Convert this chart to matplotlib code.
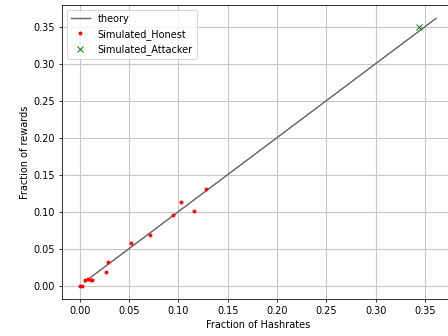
import numpy as np
import matplotlib
matplotlib.use("Agg")
import matplotlib.pyplot as plt

# simulated miners: fraction of hashrate vs fraction of rewards
honest_hash = [0.000, 0.002, 0.005, 0.008, 0.012, 0.013, 0.027, 0.029,
               0.052, 0.071, 0.095, 0.103, 0.116, 0.128]
honest_reward = [0.000, 0.000, 0.007, 0.0085, 0.008, 0.008, 0.019, 0.032,
                 0.058, 0.069, 0.095, 0.113, 0.101, 0.131]
attacker_hash = [0.344]
attacker_reward = [0.349]
theory_x = [0.005, 0.361]

fig = plt.figure(figsize=(6.4, 4.8), dpi=70)
ax = fig.add_axes([0.138, 0.11, 0.875, 0.875])

ax.plot(theory_x, theory_x, color="#666666", linewidth=1.5, label="theory")
ax.plot(honest_hash, honest_reward, ".", color="red", markersize=6, label="Simulated_Honest")
ax.plot(attacker_hash, attacker_reward, "x", color="green", markersize=6, label="Simulated_Attacker")

ax.set_xticks(np.arange(0, 0.36, 0.05))
ax.set_yticks(np.arange(0, 0.36, 0.05))
ax.grid(True, color="#c8c8c8", linewidth=1.2)
ax.set_axisbelow(True)
ax.set_xlabel("Fraction of Hashrates")
ax.set_ylabel("Fraction of rewards")
ax.legend(loc="upper left")

fig.savefig("out.png", dpi=70)
